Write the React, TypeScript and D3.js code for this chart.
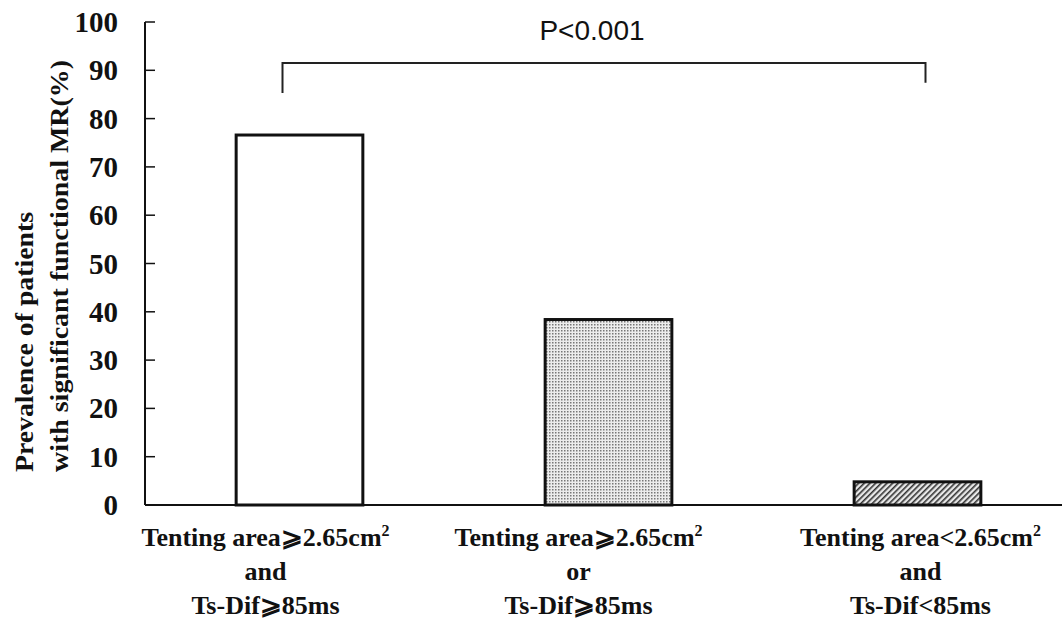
import React from "react";
import * as d3 from "d3";

const categories = ["A", "B", "C"];
const values = [76.6, 38.4, 4.8];
const yTicks = [0, 10, 20, 30, 40, 50, 60, 70, 80, 90, 100];
const GE = "\u2A7E";
const labelLines: { main: string; sup?: string }[][] = [
  [{ main: `Tenting area${GE}2.65cm`, sup: "2" }, { main: "and" }, { main: `Ts-Dif${GE}85ms` }],
  [{ main: `Tenting area${GE}2.65cm`, sup: "2" }, { main: "or" }, { main: `Ts-Dif${GE}85ms` }],
  [{ main: "Tenting area<2.65cm", sup: "2" }, { main: "and" }, { main: "Ts-Dif<85ms" }],
];
const labelShift = [-34, -30, 3];
const fills = ["#ffffff", "url(#dots)", "url(#hatch)"];
const pLabel = "P<0.001";
const yTitle = ["Prevalence of patients", "with significant functional MR(%)"];
// bracket: top level and leg ends (in % units)
const bracketTop = 91.5;
const bracketLeftEnd = 85.3;
const bracketRightEnd = 87.4;

export default function App() {
  const W = 1062, H = 622;
  const x0 = 145;
  const y = d3.scaleLinear().domain([0, 100]).range([505, 22]);
  const x = d3.scaleBand().domain(categories).range([x0, 1072]).paddingInner(0.59).paddingOuter(0.295);
  const serif = { fontFamily: "'Liberation Serif', 'Times New Roman', serif", fontWeight: 700 as const };
  const bw = x.bandwidth();
  const cx = (c: string) => (x(c) as number) + bw / 2;
  const lineY = [546, 580, 614];
  return (
    <svg width={W} height={H} style={{ position: "absolute", left: 0, top: 0, background: "#fff" }}>
      <defs>
        <pattern id="dots" width="3" height="3" patternUnits="userSpaceOnUse">
          <rect width="3" height="3" fill="#ececec" />
          <rect x="0" y="0" width="1.5" height="1.5" fill="#777" />
        </pattern>
        <pattern id="hatch" width="4" height="4" patternUnits="userSpaceOnUse" patternTransform="rotate(45)">
          <rect width="4" height="4" fill="#e8e8e8" />
          <rect x="0" y="0" width="1.6" height="4" fill="#333" />
        </pattern>
      </defs>
      {/* axes */}
      <line x1={x0} y1={y(100)} x2={x0} y2={y(0)} stroke="#111" strokeWidth={2} />
      <line x1={x0} y1={y(0)} x2={W} y2={y(0)} stroke="#111" strokeWidth={2} />
      {yTicks.map((t) => (
        <g key={t}>
          <line x1={x0} x2={x0 + 10} y1={y(t)} y2={y(t)} stroke="#111" strokeWidth={1.5} />
          <text x={118} y={y(t) + 10} textAnchor="end" style={serif} fontSize={29} fill="#111">
            {t}
          </text>
        </g>
      ))}
      {/* bars */}
      {categories.map((c, i) => (
        <rect
          key={c}
          x={x(c)}
          y={y(values[i])}
          width={bw}
          height={y(0) - y(values[i])}
          fill={fills[i]}
          stroke="#111"
          strokeWidth={3}
        />
      ))}
      {/* x labels */}
      {categories.map((c, i) => (
        <g key={c}>
          {labelLines[i].map((ln, j) => (
            <text key={j} x={cx(c) + labelShift[i]} y={lineY[j]} textAnchor="middle" style={serif} fontSize={26} fill="#111">
              {ln.main}
              {ln.sup && (
                <tspan fontSize={16} dy={-10}>
                  {ln.sup}
                </tspan>
              )}
            </text>
          ))}
        </g>
      ))}
      {/* y title */}
      <text transform="translate(33,472) rotate(-90)" style={serif} fontSize={25} fill="#111" textLength={260} lengthAdjust="spacingAndGlyphs">
        {yTitle[0]}
      </text>
      <text transform="translate(68,472) rotate(-90)" style={serif} fontSize={25} fill="#111" textLength={412} lengthAdjust="spacingAndGlyphs">
        {yTitle[1]}
      </text>
      {/* bracket */}
      <path
        d={`M${cx("A") - 17},${y(bracketLeftEnd)} V${y(bracketTop)} H${cx("C") + 8} V${y(bracketRightEnd)}`}
        fill="none"
        stroke="#222"
        strokeWidth={2}
      />
      <text x={592} y={40} textAnchor="middle" fontFamily="'Liberation Sans', Arial, sans-serif" fontSize={28} fill="#111">
        {pLabel}
      </text>
    </svg>
  );
}
